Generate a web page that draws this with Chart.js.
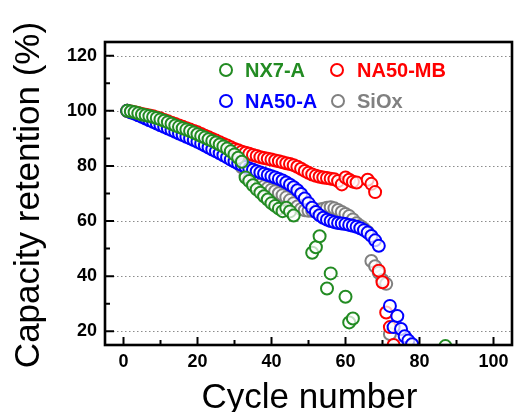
<!DOCTYPE html>
<html><head><meta charset="utf-8">
<script src="https://cdn.jsdelivr.net/npm/chart.js@4"></script>
<style>html,body{margin:0;padding:0;background:#fff}canvas{display:block}</style>
</head><body>
<canvas id="c" width="520" height="412"></canvas>
<script>
const FONT = "'Liberation Sans', Arial, Helvetica, sans-serif";
const xTitle = 'Cycle number';
const yTitle = 'Capacity retention (%)';
const xTicks = [0, 20, 40, 60, 80, 100];
const yTicks = [20, 40, 60, 80, 100, 120];
const xMinor = [10, 30, 50, 70, 90];
const yMinor = [30, 50, 70, 90, 110];

const nx7Cycles = [1,2,3,4,5,6,7,8,9,10,11,12,13,14,15,16,17,18,19,20,21,22,23,24,25,26,27,28,29,30,31,32,
  33,34,35,36,37,38,39,40,41,42,43,44,45,46, 51,52,53,55,56,60,61,62,87];
const nx7Values = [100,99.8,99.5,99.1,98.7,98.4,98.1,97.8,97.4,96.9,96.4,95.9,95.3,94.7,94.2,93.7,93.2,92.7,92.1,91.5,90.9,90.3,89.7,89.1,88.5,87.8,87.1,86.3,85.3,84.2,83,81.5,
  75.8,74.5,73,71.5,70.3,69,67.8,66.5,65.5,64.5,63.6,64.8,63.5,62, 48.5,50.5,54.5,35.5,41,32.5,23.2,24.6,14.6];

const na50aCycles = [1,2,3,4,5,6,7,8,9,10,11,12,13,14,15,16,17,18,19,20,21,22,23,24,25,26,27,28,29,30,31,32,33,34,35,36,37,38,39,40,
  41,42,43,44,45,46,47,48,49,50,51,52,53,54,55,56,57,58,59,60,61,62,63,64,65,66,67,68,69, 72,73,74,75,76,77,78];
const na50aValues = [100,99.5,99,98.4,97.8,97.2,96.6,96,95.4,94.8,94.2,93.6,93,92.4,91.8,91.2,90.6,90,89.4,88.8,
  88.1,87.4,86.7,86,85.3,84.6,83.9,83.1,82.3,81.6,80.9,80.3,79.6,79.1,78.6,78.1,77.6,77.2,76.7,76.3,
  75.8,75.3,74.7,74,73.2,72.3,71.2,69.8,68.2,66.5,64.8,63.3,62.1,61.2,60.5,60,59.6,59.3,59.1,58.9,
  58.6,58.3,57.9,57.4,56.7,55.8,54.6,53,51, 29.2,21.5,25.5,20.8,18.2,16.6,15.3];

const na50mbCycles = [1,2,3,4,5,6,7,8,9,10,11,12,13,14,15,16,17,18,19,20,21,22,23,24,25,26,27,28,29,30,31,32,33,34,35,36,37,38,39,40,
  41,42,43,44,45,46,47,48,49,50,51,52,53,54,55,56,57,58,59,60,61,62,63, 66,67,68,69,70,71,72,73];
const na50mbValues = [100,99.8,99.5,99.2,98.9,98.6,98.3,98,97.6,97.2,96.7,96.2,95.7,95.2,94.7,94.2,93.7,93.2,92.7,92.2,
  91.6,91,90.4,89.8,89.2,88.6,88,87.4,86.8,86.2,85.7,85.2,84.8,84.4,84,83.6,83.2,82.9,82.6,82.3,
  82,81.7,81.3,81,80.7,80.3,79.7,79,78.2,77.5,76.9,76.4,76.1,75.8,75.6,75.4,75.2,74.5,73.3,75.8,
  75,74.3,74, 75,73.5,70.5,42,37.8,26.8,21.5,15];

const siOxCycles = [1,2,3,4,5,6,7,8,9,10,11,12,13,14,15,16,17,18,19,20,21,22,23,24,25,26,27,28,29,30,31,32,33,34,35,36,
  37,38,39,40,41,42,43,44,45,46,47,48,49,50,51,52,53,54,55,56,57,58,59,60,61,62,63,64,65,66,67,68,69,70,71,72];
const siOxValues = [100,99.4,99,98.5,98,97.6,97.2,96.8,96.3,95.8,95.3,94.8,94.2,93.6,93.1,92.6,92.1,91.6,91,90.4,
  89.8,89.2,88.6,88,87.4,86.7,86,85.2,84.3,83.3,82.3,79.5,76.5,75.5,74.6,73.8,
  73.2,72.6,72,71.4,70.8,70.1,69.4,68.6,67.6,66.5,65.3,64.4,63.9,63.7,63.7,63.9,64.2,64.5,64.8,65,
  64.6,64,63.3,62.6,61.8,60.6,59.2,58.2,57.2,56,45.5,43.6,41.2,38.6,37.2,19];

// drawing order: first is on top
const series = [
  {name: 'NX7-A',   color: '#228B22', cycles: nx7Cycles,    values: nx7Values},
  {name: 'NA50-A',  color: '#0000FF', cycles: na50aCycles,  values: na50aValues},
  {name: 'NA50-MB', color: '#FF0000', cycles: na50mbCycles, values: na50mbValues},
  {name: 'SiOx',    color: '#808080', cycles: siOxCycles,   values: siOxValues}
];
// legend layout (reference order)
const legendSlots = [
  {name: 'NX7-A',   mx: 226, my: 70,  tx: 245},
  {name: 'NA50-MB', mx: 337, my: 70,  tx: 357},
  {name: 'NA50-A',  mx: 226, my: 101, tx: 245},
  {name: 'SiOx',    mx: 338, my: 101, tx: 357}
];

const decor = {
  id: 'decor',
  beforeDatasetsDraw(chart) {
    const {ctx, chartArea: a, scales: {y}} = chart;
    ctx.save();
    ctx.strokeStyle = '#8c8c8c';
    ctx.lineWidth = 1;
    ctx.setLineDash([1.5, 2.5]);
    yTicks.forEach(v => {
      const py = Math.round(y.getPixelForValue(v)) + 0.5;
      ctx.beginPath(); ctx.moveTo(a.left, py); ctx.lineTo(a.right, py); ctx.stroke();
    });
    ctx.restore();
  },
  afterDatasetsDraw(chart) {
    const {ctx, chartArea: a, scales: {x, y}} = chart;
    ctx.save();
    ctx.strokeStyle = '#000';
    ctx.lineWidth = 2;
    ctx.beginPath();
    xTicks.forEach(v => { const px = x.getPixelForValue(v); ctx.moveTo(px, a.bottom); ctx.lineTo(px, a.bottom - 8); });
    xMinor.forEach(v => { const px = x.getPixelForValue(v); ctx.moveTo(px, a.bottom); ctx.lineTo(px, a.bottom - 5); });
    yTicks.forEach(v => { const py = y.getPixelForValue(v); ctx.moveTo(a.left, py); ctx.lineTo(a.left + 9, py); });
    yMinor.forEach(v => { const py = y.getPixelForValue(v); ctx.moveTo(a.left, py); ctx.lineTo(a.left + 5, py); });
    ctx.stroke();
    ctx.lineWidth = 2.6;
    ctx.strokeRect(a.left, a.top, a.right - a.left, a.bottom - a.top);
    ctx.restore();
  },
  afterDraw(chart) {
    const {ctx, chartArea: a} = chart;
    ctx.save();
    // axis titles
    ctx.fillStyle = '#000';
    ctx.font = '35px ' + FONT;
    ctx.textAlign = 'center';
    ctx.textBaseline = 'alphabetic';
    ctx.fillText(xTitle, (a.left + a.right) / 2 + 1, 408);
    ctx.save();
    ctx.translate(39, 195);
    ctx.rotate(-Math.PI / 2);
    ctx.fillText(yTitle, 0, 0);
    ctx.restore();
    // legend
    ctx.font = 'bold 20px ' + FONT;
    ctx.textAlign = 'left';
    ctx.textBaseline = 'middle';
    legendSlots.forEach(slot => {
      const ds = chart.data.datasets.find(d => d.label === slot.name);
      ctx.beginPath();
      ctx.arc(slot.mx, slot.my, 6, 0, Math.PI * 2);
      ctx.fillStyle = '#fff';
      ctx.fill();
      ctx.lineWidth = 2;
      ctx.strokeStyle = ds.borderColor;
      ctx.stroke();
      ctx.fillStyle = ds.borderColor;
      ctx.fillText(ds.label, slot.tx, slot.my + 1);
    });
    ctx.restore();
  }
};

new Chart(document.getElementById('c'), {
  type: 'scatter',
  data: {
    datasets: series.map(s => ({
      label: s.name,
      data: s.cycles.map((c, i) => ({x: c, y: s.values[i]})),
      borderColor: s.color,
      backgroundColor: 'rgba(255,255,255,0.72)',
      pointRadius: 6,
      pointHoverRadius: 6,
      pointBorderWidth: 2,
      showLine: false
    }))
  },
  options: {
    responsive: false,
    animation: false,
    devicePixelRatio: 1,
    events: [],
    layout: {padding: {top: 42, right: 3, left: 0, bottom: 0}},
    plugins: {legend: {display: false}, tooltip: {enabled: false}},
    scales: {
      x: {
        type: 'linear', min: -5, max: 105,
        afterBuildTicks: s => { s.ticks = xTicks.map(v => ({value: v})); },
        afterFit: s => { s.height = 67; },
        grid: {display: false, drawTicks: false},
        border: {display: false},
        ticks: {font: {family: FONT, size: 18, weight: 'bold'}, color: '#000', padding: 6, maxRotation: 0, autoSkip: false},
        title: {display: false}
      },
      y: {
        type: 'linear', min: 15, max: 125,
        afterBuildTicks: s => { s.ticks = yTicks.map(v => ({value: v})); },
        afterFit: s => { s.width = 105; },
        grid: {display: false, drawTicks: false},
        border: {display: false},
        ticks: {font: {family: FONT, size: 18, weight: 'bold'}, color: '#000', padding: 8, autoSkip: false},
        title: {display: false}
      }
    }
  },
  plugins: [decor]
});
</script>
</body></html>
